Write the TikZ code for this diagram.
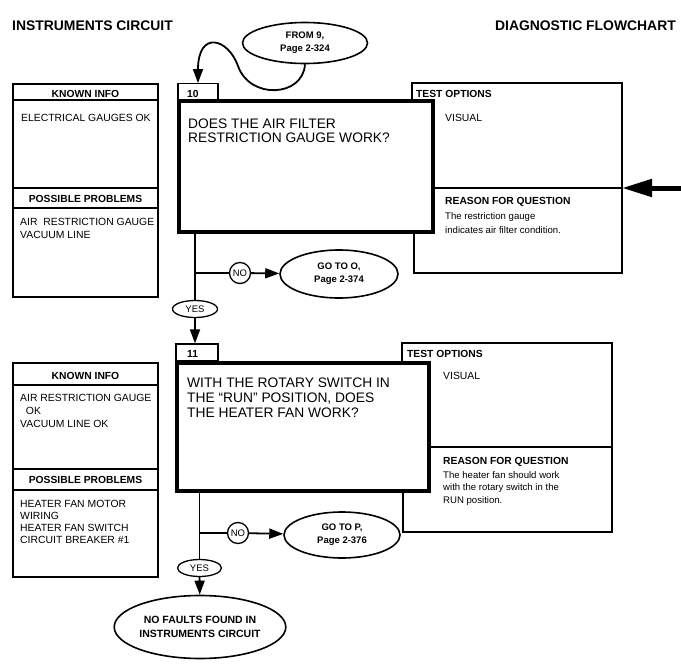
\documentclass[tikz,border=0pt]{standalone}
\usepackage{fontspec}
\setmainfont{Liberation Sans}
\usetikzlibrary{arrows.meta,shapes.geometric}
\begin{document}
\begin{tikzpicture}[x=1pt,y=-1pt,
  thinln/.style={line width=1.3pt},
  conn/.style={line width=1.8pt},
  arr/.style={conn,-{Triangle[length=14pt,width=10pt]}},
  bigarrow/.style={line width=5pt,-{Triangle[length=30pt,width=17pt]}},
  qbox/.style={draw,line width=4.5pt,rectangle,inner sep=0pt},
  plainbox/.style={draw,thinln,rectangle,inner sep=0pt},
  oval/.style={draw,ellipse,line width=1.6pt,inner sep=0pt,align=center,
    font=\bfseries\fontsize{9.5}{13}\selectfont},
  smalloval/.style={draw,ellipse,line width=1.3pt,inner sep=0pt,
    font=\fontsize{9.5}{11}\selectfont},
  nocirc/.style={draw,circle,line width=1.3pt,inner sep=0pt,minimum size=21pt,
    font=\fontsize{9.5}{11}\selectfont},
  titletxt/.style={inner sep=0pt,font=\bfseries\fontsize{13.9}{16}\selectfont},
  headtxt/.style={inner sep=0pt,font=\bfseries\fontsize{10.3}{13}\selectfont},
  itemtxt/.style={inner sep=0pt,align=left,anchor=base west,font=\fontsize{10.4}{13}\selectfont},
  reasontxt/.style={inner sep=0pt,align=left,anchor=base west,font=\fontsize{9.6}{14}\selectfont},
  qtxt/.style={inner sep=0pt,align=left,anchor=base west,font=\fontsize{13.8}{14.5}\selectfont}
]
\useasboundingbox (0,0) rectangle (681,670);

% titles
\node[titletxt,anchor=base west] (t1) at (12,30) {INSTRUMENTS CIRCUIT};
\node[titletxt,anchor=base east] (t2) at (676,30) {DIAGNOSTIC FLOWCHART};

% ---------- block 10 ----------
\node[oval,minimum width=125pt,minimum height=41pt] (from9) at (305,43) {FROM 9,\\Page 2-324};
\node[plainbox,minimum width=40pt,minimum height=16.5pt] (n10) at (198,92) {};
\node[headtxt,anchor=base west] (n10t) at (187,97.5) {10};

% test options / reason box 1
\coordinate (tr1) at (622,188);
\coordinate (ain1) at (681,188);
\draw[thinln] (412,100) -- (412,83) -- (622,83) -- (622,273) -- (414,273) -- (414,233);
\node[headtxt,anchor=base west] (to1) at (416,97) {TEST OPTIONS};
\node[itemtxt] (vis1) at (445,121) {VISUAL};
\node[headtxt,anchor=base west] (rq1) at (445,204) {REASON FOR QUESTION};
\node[reasontxt] (rt1) at (445,233) {The restriction gauge\\indicates air filter condition.};

% question box 10
\node[qbox,minimum width=254pt,minimum height=131pt] (q10) at (306,166.5) {};
\node[qtxt] (q10t) at (188,142.5) {DOES THE AIR FILTER\\RESTRICTION GAUGE WORK?};
\draw[thinln] (q10.east |- tr1) -- (tr1);
\draw[bigarrow] (ain1) -- (tr1);

% known info 1
\node[plainbox,minimum width=145pt,minimum height=213pt] (k1) at (85.5,190.5) {};
\draw[thinln] (k1.west |- 0,100) -- (k1.east |- 0,100);
\draw[thinln] (k1.west |- 0,188) -- (k1.east |- 0,188);
\draw[thinln] (k1.west |- 0,208) -- (k1.east |- 0,208);
\node[headtxt,anchor=base] (kh1) at (85.5,97) {KNOWN INFO};
\node[itemtxt] (ki1) at (21,121) {ELECTRICAL GAUGES OK};
\node[headtxt,anchor=base] (ph1) at (85.5,202) {POSSIBLE PROBLEMS};
\node[itemtxt,font=\fontsize{10.4}{13.5}\selectfont] (pi1) at (20,238.5) {AIR\ \ RESTRICTION GAUGE\\VACUUM LINE};

% connectors 10
\draw[arr] (from9.south) .. controls (303,97) and (250,100) .. (238,66)
  .. controls (228,38) and (198,30) .. (n10.north);
\node[smalloval,minimum width=45pt,minimum height=17pt] (yes1) at (195,309) {YES};
\node[nocirc] (no1) at (240,273) {NO};
\node[oval,minimum width=118pt,minimum height=48pt] (goto1) at (339,274) {GO TO O,\\Page 2-374};
\draw[conn] (q10.south -| yes1) -- (yes1);
\draw[conn] (yes1 |- no1) -- (no1);
\draw[arr] (no1) -- (goto1);

% ---------- block 11 ----------
\node[plainbox,minimum width=42pt,minimum height=17pt] (n11) at (197,352.5) {};
\node[headtxt,anchor=base west] (n11t) at (187,357.5) {11};
\draw[arr] (yes1) -- (yes1 |- n11.north);

\coordinate (tr2) at (612,447);
\draw[thinln] (402,362) -- (402,343) -- (612,343) -- (612,532) -- (403,532) -- (403,492);
\node[headtxt,anchor=base west] (to2) at (407,357) {TEST OPTIONS};
\node[itemtxt] (vis2) at (443,379) {VISUAL};
\node[headtxt,anchor=base west] (rq2) at (443,464) {REASON FOR QUESTION};
\node[reasontxt,font=\fontsize{9.6}{12.5}\selectfont] (rt2) at (443,503) {The heater fan should work\\with the rotary switch in the\\RUN position.};

\node[qbox,minimum width=252pt,minimum height=128pt] (q11) at (303,427) {};
\node[qtxt,font=\fontsize{13.8}{15}\selectfont] (q11t) at (187,417) {WITH THE ROTARY SWITCH IN\\THE “RUN” POSITION, DOES\\THE HEATER FAN WORK?};
\draw[thinln] (q11.east |- tr2) -- (tr2);

\node[plainbox,minimum width=145pt,minimum height=214pt] (k2) at (85.5,470) {};
\draw[thinln] (k2.west |- 0,385) -- (k2.east |- 0,385);
\draw[thinln] (k2.west |- 0,469) -- (k2.east |- 0,469);
\draw[thinln] (k2.west |- 0,490) -- (k2.east |- 0,490);
\node[headtxt,anchor=base] (kh2) at (85.5,379) {KNOWN INFO};
\node[itemtxt] (ki2) at (20,427) {AIR RESTRICTION GAUGE\\\ \ OK\\VACUUM LINE OK};
\node[headtxt,anchor=base] (ph2) at (85.5,483) {POSSIBLE PROBLEMS};
\node[itemtxt,font=\fontsize{10.4}{11.7}\selectfont] (pi2) at (20,543) {HEATER FAN MOTOR\\WIRING\\HEATER FAN SWITCH\\CIRCUIT BREAKER \#1};

\node[smalloval,minimum width=44pt,minimum height=17pt] (yes2) at (199.5,568) {YES};
\node[nocirc] (no2) at (238,533) {NO};
\node[oval,minimum width=116pt,minimum height=46pt] (goto2) at (342,535) {GO TO P,\\Page 2-376};
\node[oval,font=\bfseries\fontsize{10.5}{14.5}\selectfont,minimum width=144pt,minimum height=63pt] (end) at (200,627) {NO FAULTS FOUND IN\\INSTRUMENTS CIRCUIT};
\draw[conn] (q11.south -| yes2) -- (yes2);
\draw[conn] (yes2 |- no2) -- (no2);
\draw[arr] (no2) -- (goto2);
\draw[arr] (yes2) -- (end);
\end{tikzpicture}
\end{document}
